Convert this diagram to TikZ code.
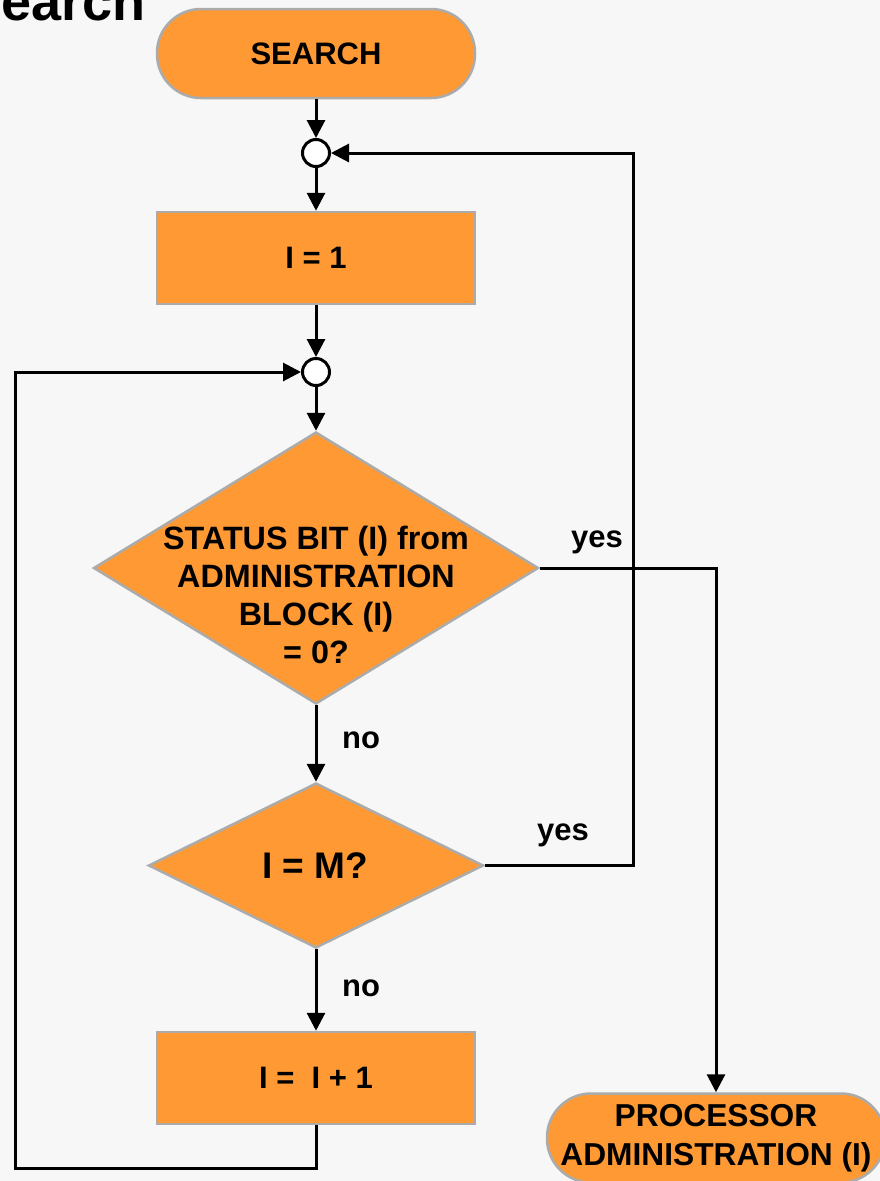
\documentclass[tikz,border=0pt]{standalone}
\usepackage{fontspec}
\setmainfont{Liberation Sans}
\usetikzlibrary{shapes.geometric,arrows.meta}
\definecolor{bg}{HTML}{F7F7F7}
\definecolor{orng}{HTML}{FF9933}
\definecolor{bord}{HTML}{ABABAB}
\begin{document}
\begin{tikzpicture}[x=1pt,y=-1pt,
  every node/.style={font=\fontsize{31}{38}\selectfont\bfseries, text=black},
  term/.style={draw=bord, line width=2.5pt, fill=orng, rounded corners=44pt, minimum height=89pt, inner sep=0pt, align=center},
  procbox/.style={draw=bord, line width=2.5pt, fill=orng, minimum width=318pt, minimum height=92pt, inner sep=0pt},
  dec/.style={diamond, draw=bord, line width=2.5pt, fill=orng, inner sep=0pt},
  junc/.style={circle, draw=black, fill=white, line width=3pt, minimum size=27pt, inner sep=0pt},
  flow/.style={line width=3pt, draw=black, -{Triangle[length=18pt,width=18pt]}},
  lbl/.style={inner sep=0pt}
]
\useasboundingbox (0,0) rectangle (880,1181);
\clip (0,0) rectangle (880,1181);
\fill[bg] (0,0) rectangle (880,1181);

\node[anchor=base east, font=\fontsize{54}{54}\selectfont\bfseries] (title) at (149,20) {Search};

\node[term, minimum width=318pt] (start) at (316,53.5) {SEARCH};
\node[junc] (j1) at (316,153) {};
\node[procbox] (b1) at (316,258) {I = 1};
\node[junc] (j2) at (316,372) {};
\node[dec, minimum width=445pt, minimum height=272pt] (d1) at (316,568) {};
\node[align=center, font=\fontsize{32.3}{38}\selectfont\bfseries] (d1t) at (316,595) {STATUS BIT (I) from\\ADMINISTRATION\\BLOCK (I)\\= 0?};
\node[dec, minimum width=335pt, minimum height=165pt] (d2) at (316,865.5) {};
\node[font=\fontsize{37}{40}\selectfont\bfseries] (d2t) at (315,866) {I = M?};
\node[procbox] (b3) at (316,1078) {I =\ \ I + 1};
\node[term, minimum width=338pt, font=\fontsize{31.7}{38.5}\selectfont\bfseries] (pa) at (716,1138) {PROCESSOR\\ADMINISTRATION (I)};

\coordinate (c1) at (15,1168);
\coordinate (c2) at (15,372);
\coordinate (c3) at (633,865.5);
\coordinate (c4) at (633,153);
\coordinate (c5) at (716,568);

\draw[flow] (start) -- (j1);
\draw[flow] (j1) -- (b1);
\draw[flow] (b1) -- (j2);
\draw[flow] (j2) -- (d1.north);
\draw[flow] (d1.south) -- (d2.north);
\draw[flow] (d2.south) -- (b3);
\draw[flow] (b3.south) |- (c1) -- (c2) -- (j2);
\draw[flow] (d2.east) -- (c3) -- (c4) -- (j1);
\draw[flow] (d1.east) -- (c5) -- (pa.north);

\node[lbl] (no1) at (361,740) {no};
\node[lbl] (no2) at (361,988) {no};
\node[lbl] (yes1) at (597,542) {yes};
\node[lbl] (yes2) at (563,835) {yes};
\end{tikzpicture}
\end{document}
